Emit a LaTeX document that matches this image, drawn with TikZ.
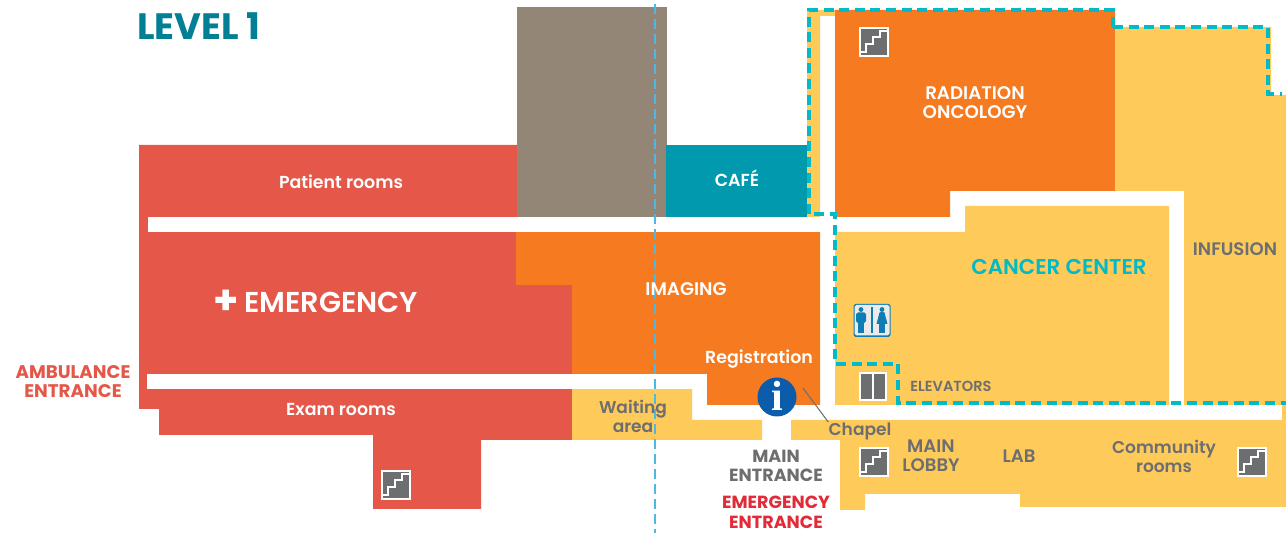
\documentclass[tikz,border=0pt]{standalone}
\usepackage{fontspec}
\setmainfont{Poppins}[BoldFont={Poppins SemiBold}]
\newfontfamily\heavyfont{Poppins Bold}
\usetikzlibrary{positioning}
\definecolor{redarea}{HTML}{E55748}
\definecolor{orangearea}{HTML}{F57A20}
\definecolor{yellowarea}{HTML}{FECA5A}
\definecolor{taupearea}{HTML}{948676}
\definecolor{cafearea}{HTML}{0099AD}
\definecolor{cancerline}{HTML}{00BAC8}
\definecolor{titleteal}{HTML}{007F95}
\definecolor{labelgray}{HTML}{6D6E70}
\definecolor{sitered}{HTML}{E12B38}
\definecolor{infoblue}{HTML}{0B5CAB}
\definecolor{wcblue}{HTML}{0E7DB5}
\definecolor{axisblue}{HTML}{4DB9E3}
\tikzset{
    roomlabel/.style={text=white, font=\bfseries\fontsize{9.9}{10.8}\selectfont, align=center, inner sep=0pt},
    graylabel/.style={text=labelgray, font=\bfseries\fontsize{10.3}{10.8}\selectfont, align=center, inner sep=0pt},
    softlabel/.style={text=labelgray, font=\bfseries\fontsize{9.7}{10.8}\selectfont, align=center, inner sep=0pt},
    entrylabel/.style={font=\heavyfont\fontsize{10}{11.2}\selectfont, align=center, inner sep=0pt},
    cancerdash/.style={draw=cancerline, line width=2.6pt, dash pattern=on 10\unitlength off 5.6\unitlength},
}
\setlength{\unitlength}{0.02cm}
\newcommand{\stairicon}[1]{
    \begin{scope}[shift={#1}]
        \fill[white] (-15,-15) rectangle (15,15);
        \fill[labelgray] (-13,-13) rectangle (13,13);
        \draw[white, line width=0.7pt] (-13,10) -- (-8,10) -- (-8,2) -- (-1,2) -- (-1,-5) -- (6,-5) -- (6,-11) -- (13,-11);
    \end{scope}
}
\begin{document}
\begin{tikzpicture}[x=0.02cm, y=-0.02cm]
    \useasboundingbox (0,0) rectangle (1286,533);

    % Emergency wing
    \fill[redarea] (139,145) -- (517,145) -- (517,285) -- (572,285) -- (572,440) -- (481,440) -- (481,509)
        -- (373,509) -- (373,435) -- (159,435) -- (159,409) -- (139,409) -- cycle;
    % Imaging
    \fill[orangearea] (516,232) -- (820,232) -- (820,405) -- (707,405) -- (707,374) -- (572,374) -- (572,285) -- (516,285) -- cycle;
    \fill[taupearea] (516.5,7) rectangle (666.5,217);
    \fill[cafearea] (666,145) rectangle (807,217);

    % Cancer center
    \fill[yellowarea] (807,10) -- (835,10) -- (835,16) -- (820,16) -- (820,217) -- (807,217) -- cycle;
    \fill[orangearea] (835,10) -- (1115,10) -- (1115,191) -- (950,191) -- (950,217) -- (835,217) -- cycle;
    \fill[yellowarea] (1115,27) -- (1271,27) -- (1271,95) -- (1286,95) -- (1286,405) -- (1184,405) -- (1184,191) -- (1115,191) -- cycle;
    \fill[yellowarea] (835,232) -- (965,232) -- (965,206) -- (1169,206) -- (1169,405) -- (835,405) -- cycle;

    % Lobby level
    \fill[yellowarea] (572,389) -- (692,389) -- (692,420) -- (762,420) -- (762,440) -- (572,440) -- cycle;
    \fill[yellowarea] (791,420) -- (1282,420) -- (1282,405) -- (1286,405) -- (1286,507) -- (1020,507) -- (1020,494) -- (865,494)
        -- (865,510) -- (840,510) -- (840,440) -- (791,440) -- cycle;

    % Corridors
    \fill[white] (148,217) rectangle (820,232);
    \fill[white] (147,374) rectangle (707,389);

    % Cancer center outline
    \draw[cancerdash] (1113,27) -- (1113,10) -- (809,10) -- (809,214) -- (835,214) -- (835,364) -- (898,364) -- (898,403) -- (1286,403);
    \draw[cancerdash] (1113,27) -- (1268,27) -- (1268,94) -- (1282,94);

    % Axis line
    \draw[axisblue, line width=0.8pt, dash pattern=on 10\unitlength off 5\unitlength] (655,4) -- (655,533);

    % Stairs and elevators
    \stairicon{(874,42)}
    \stairicon{(396,485)}
    \stairicon{(874,462)}
    \stairicon{(1252,462)}
    \fill[white] (859,372) rectangle (887,401);
    \fill[labelgray] (861,374) rectangle (872,399);
    \fill[labelgray] (874,374) rectangle (885,399);

    % Restrooms
    \begin{scope}[shift={(872,320)}]
        \fill[wcblue, rounded corners=1pt] (-18.5,-16) rectangle (18.5,17);
        \fill[white!92!black, rounded corners=1pt] (-17.5,-15) rectangle (17.5,15.5);
        \fill[wcblue] (-0.8,-13) rectangle (0.8,13);
        \fill[wcblue] (-11,-10.5) circle (2.4);
        \fill[wcblue, rounded corners=1pt] (-16,-7.5) rectangle (-6,3);
        \fill[wcblue] (-14,0) rectangle (-8,13);
        \fill[wcblue] (10,-10.5) circle (2.4);
        \fill[wcblue] (10,-8) -- (12.5,-7.5) -- (15.5,4) -- (4.5,4) -- (7.5,-7.5) -- cycle;
        \fill[wcblue] (7,3) rectangle (13,13);
    \end{scope}

    % Information point
    \node[circle, fill=infoblue, minimum size=39\unitlength, inner sep=0pt] (info) at (777,397) {};
    \node[text=white, font=\fontsize{24}{24}\selectfont, inner sep=0pt] (infoletter) at (777,396) {\fontspec{Liberation Serif Bold}i};

    % Room labels
    \node[anchor=west, text=titleteal, font=\heavyfont\fontsize{20.9}{20.9}\selectfont, inner sep=0pt] (level) at (137,26) {LEVEL 1};
    \node[roomlabel] (patient) at (341,181.5) {Patient rooms};
    \node[roomlabel] (cafe) at (737,178) {CAFÉ};
    \node[roomlabel, font=\bfseries\fontsize{10.4}{10.8}\selectfont] (radiation) at (975,102.5) {RADIATION\\ONCOLOGY};
    \node[roomlabel, font=\bfseries\fontsize{10.4}{10.8}\selectfont] (imaging) at (686,289) {IMAGING};
    \node[anchor=west, text=white, font=\bfseries\fontsize{16.35}{16.35}\selectfont, inner sep=0pt] (emergency) at (244,302) {EMERGENCY};
    \node[text=white, font=\heavyfont\fontsize{23}{23}\selectfont, inner sep=0pt, left=5\unitlength of emergency] (plus) {+};
    \node[roomlabel] (registration) at (759,359.5) {Registration};
    \node[roomlabel] (exam) at (341,410) {Exam rooms};
    \node[text=cancerline, font=\bfseries\fontsize{12.2}{12.2}\selectfont, inner sep=0pt] (cancer) at (1059,267) {CANCER CENTER};
    \node[graylabel] (infusion) at (1235,249) {INFUSION};
    \node[graylabel, font=\bfseries\fontsize{8.3}{8.3}\selectfont] (elevators) at (951,386) {ELEVATORS};
    \node[softlabel] (waiting) at (633,416) {Waiting\\area};
    \node[softlabel] (chapel) at (860,431) {Chapel};
    \node[graylabel] (lobby) at (931,456) {MAIN\\LOBBY};
    \node[graylabel] (lab) at (1019,456) {LAB};
    \node[softlabel] (community) at (1164,456) {Community\\rooms};

    % Entrances
    \node[entrylabel, text=labelgray] (mainentry) at (776,466) {MAIN\\ENTRANCE};
    \node[entrylabel, text=sitered] (emergencyentry) at (776,512) {EMERGENCY\\ENTRANCE};
    \node[entrylabel, text=redarea, font=\heavyfont\fontsize{10.4}{11.2}\selectfont] (ambulance) at (73,381.5) {AMBULANCE\\ENTRANCE};

    % Chapel leader
    \coordinate (chapelend) at (803,388);
    \draw[labelgray, line width=0.6pt] (chapelend) -- (chapel.north west);
\end{tikzpicture}
\end{document}
